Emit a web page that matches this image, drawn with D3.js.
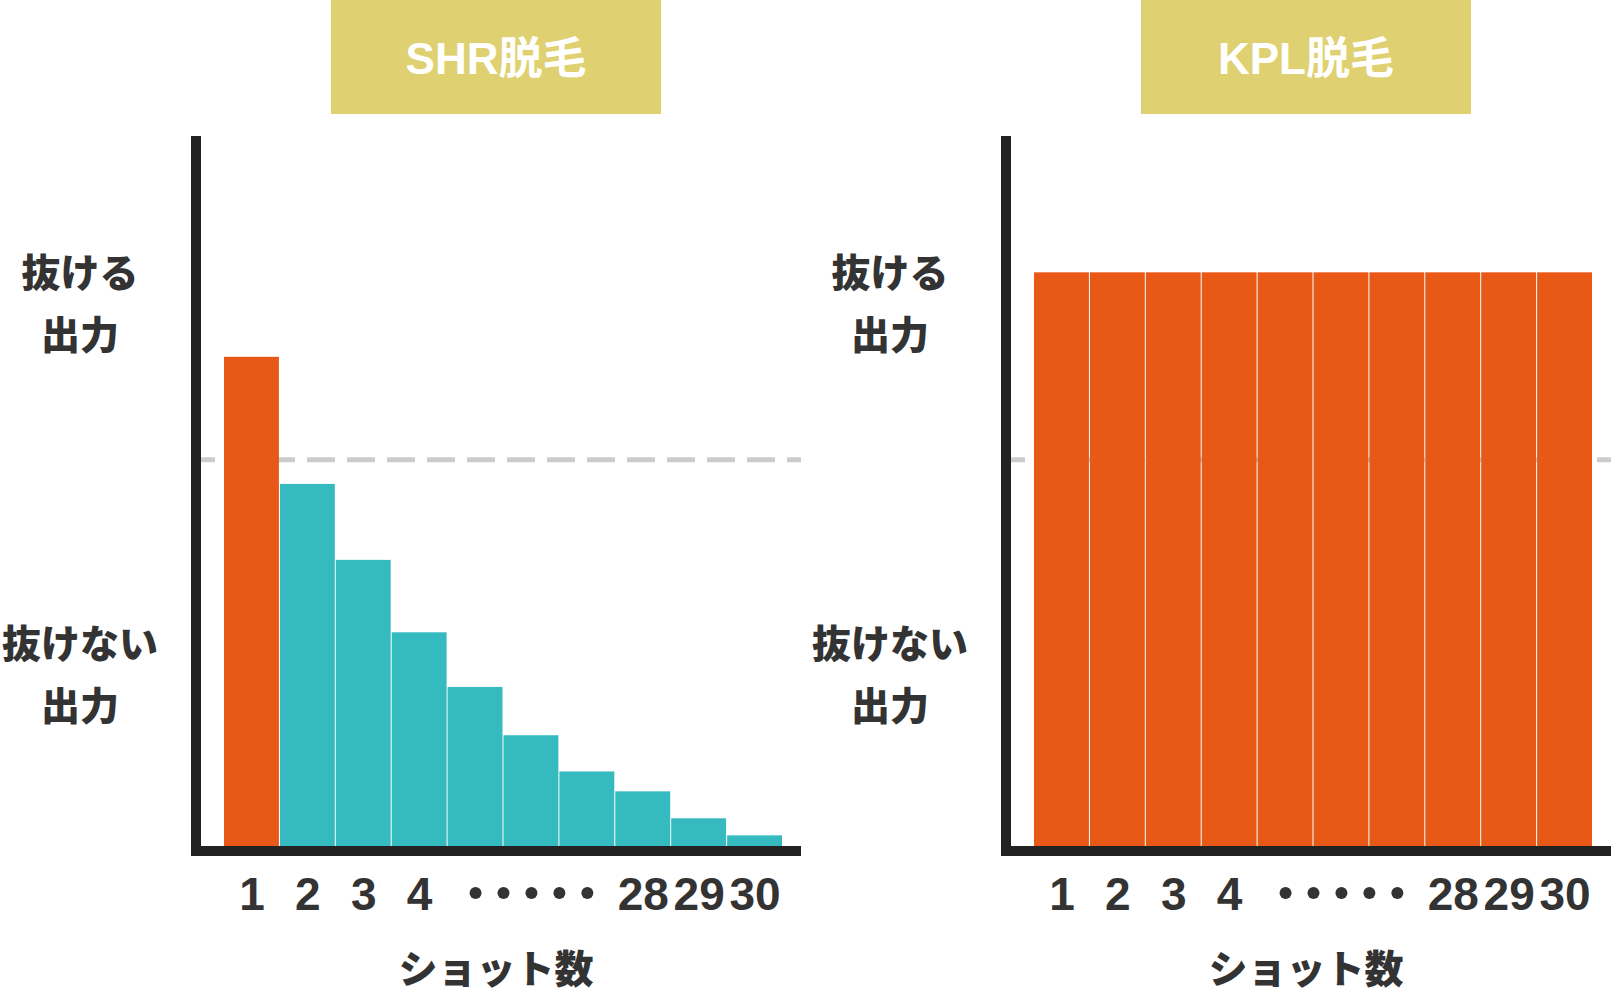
<!DOCTYPE html>
<html>
<head>
<meta charset="utf-8">
<script src="https://cdn.jsdelivr.net/npm/d3@7"></script>
<style>
  body { margin: 0; background: #fff; }
  svg { display: block; }
  text { font-family: "Liberation Sans", "Noto Sans CJK JP", sans-serif; font-weight: 700; }
  text.jp { font-family: "Noto Sans CJK JP", sans-serif; font-weight: 900; }
</style>
</head>
<body>
<script>
// données (échelle 0-100 = hauteur de l'axe)
const categories = ['1', '2', '3', '4', '5', '6', '7', '28', '29', '30'];
const tickLabels = ['1', '2', '3', '4', '', '', '', '28', '29', '30'];
const shrValues = [68.9, 51.0, 40.3, 30.1, 22.4, 15.6, 10.5, 7.7, 3.9, 1.5];
const kplValues = [80.8, 80.8, 80.8, 80.8, 80.8, 80.8, 80.8, 80.8, 80.8, 80.8];
const threshold = 54.4;
const panelTitles = ['SHR脱毛', 'KPL脱毛'];
const levelLabels = [['抜ける', '出力'], ['抜けない', '出力']];
const levelValues = [76.7, 24.5];
const xTitle = 'ショット数';

const width = 1611, height = 993;
const panelOffset = 810;
const colors = { hot: '#e85816', cold: '#35babf', axis: '#222', text: '#333', box: '#dfd171', dash: '#cccccc' };

const svg = d3.select('body').append('svg')
    .attr('width', width)
    .attr('height', height);

const x = d3.scaleBand()
    .domain(categories)
    .range([224, 783]);

const y = d3.scaleLinear()
    .domain([0, 100])
    .range([846, 136]);

function drawPanel(g, values, title) {
    // titre
    g.append('rect')
        .attr('x', 331).attr('y', 0)
        .attr('width', 330).attr('height', 114)
        .attr('fill', colors.box);
    g.append('text')
        .attr('x', 496).attr('y', 58)
        .attr('text-anchor', 'middle')
        .attr('dominant-baseline', 'central')
        .attr('fill', '#fff')
        .style('font-size', '44px')
        .text(title);

    // ligne de seuil (commence juste après l'axe)
    g.append('line')
        .attr('x1', 201).attr('x2', 801)
        .attr('y1', y(threshold)).attr('y2', y(threshold))
        .attr('stroke', colors.dash)
        .attr('stroke-width', 5)
        .attr('stroke-dasharray', '28 12')
        .attr('stroke-dashoffset', 14);

    // barres
    g.selectAll('rect.bar')
        .data(values)
        .join('rect')
        .attr('class', 'bar')
        .attr('x', (d, i) => x(categories[i]))
        .attr('y', d => y(d))
        .attr('width', x.bandwidth() - 1)
        .attr('height', d => y(0) - y(d))
        .attr('fill', d => d > threshold ? colors.hot : colors.cold);

    // axes
    g.append('line')
        .attr('x1', 196).attr('x2', 196)
        .attr('y1', y(100)).attr('y2', y(0) + 10)
        .attr('stroke', colors.axis).attr('stroke-width', 10);
    g.append('line')
        .attr('x1', 191).attr('x2', 801)
        .attr('y1', y(0) + 5).attr('y2', y(0) + 5)
        .attr('stroke', colors.axis).attr('stroke-width', 10);

    const xAxis = d3.axisBottom(x)
        .tickSize(0)
        .tickPadding(0)
        .tickFormat((d, i) => tickLabels[i]);
    const ax = g.append('g')
        .attr('transform', `translate(0,${y(0)})`)
        .call(xAxis);
    ax.select('.domain').remove();
    ax.selectAll('text')
        .attr('y', 64)
        .attr('dy', null)
        .attr('fill', colors.text)
        .style('font-size', '46px')
        .style('font-family', '"Liberation Sans", sans-serif');

    // points de suspension entre 4 et 28
    const hidden = categories.filter((c, i) => tickLabels[i] === '');
    const dots = [];
    hidden.forEach((c, i) => {
        dots.push(x(c) + x.bandwidth() / 2);
        if (i < hidden.length - 1) dots.push(x(c) + x.bandwidth());
    });
    g.selectAll('circle.dot')
        .data(dots)
        .join('circle')
        .attr('class', 'dot')
        .attr('cx', d => d)
        .attr('cy', y(0) + 47)
        .attr('r', 6)
        .attr('fill', colors.text);

    // titre de l'axe
    g.append('text')
        .attr('class', 'jp')
        .attr('x', 496).attr('y', 966)
        .attr('text-anchor', 'middle')
        .attr('dominant-baseline', 'central')
        .attr('fill', colors.text)
        .style('font-size', '39px')
        .text(xTitle);

    // étiquettes de niveau
    levelLabels.forEach((lines, k) => {
        const cy = y(levelValues[k]);
        g.selectAll(null)
            .data(lines)
            .join('text')
            .attr('class', 'jp')
            .attr('x', 80)
            .attr('y', (d, j) => cy + (j - (lines.length - 1) / 2) * 62)
            .attr('text-anchor', 'middle')
            .attr('dominant-baseline', 'central')
            .attr('fill', colors.text)
            .style('font-size', '39px')
            .text(d => d);
    });
}

[shrValues, kplValues].forEach((values, i) => {
    const g = svg.append('g').attr('transform', `translate(${i * panelOffset},0)`);
    drawPanel(g, values, panelTitles[i]);
});
</script>
</body>
</html>
